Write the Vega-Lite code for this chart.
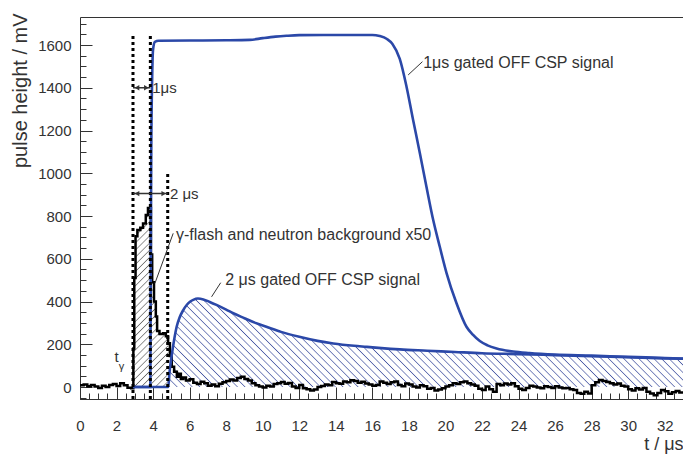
{
"$schema": "https://vega.github.io/schema/vega-lite/v6.json",
"width": 603, "height": 382,
"autosize": {"type": "none"},
"padding": {"left": 80, "top": 17, "right": 0, "bottom": 56},
"background": "white",
"config": {"view": {"stroke": null}, "font": "Liberation Sans", "text": {"font": "Liberation Sans", "color": "#333"}},
"datasets": {
"bg": [{"x":0,"y":8},{"x":0.2,"y":12},{"x":0.4,"y":4},{"x":0.6,"y":10},{"x":0.8,"y":2},{"x":1.0,"y":-4},{"x":1.2,"y":6},{"x":1.4,"y":0},{"x":1.6,"y":9},{"x":1.8,"y":14},{"x":2.0,"y":5},{"x":2.2,"y":18},{"x":2.4,"y":8},{"x":2.6,"y":-3},{"x":2.8,"y":-6},
{"x":2.92,"y":180},{"x":2.97,"y":510},{"x":3.04,"y":705},{"x":3.14,"y":735},{"x":3.3,"y":745},{"x":3.45,"y":765},{"x":3.6,"y":805},{"x":3.72,"y":838},{"x":3.88,"y":620},{"x":3.95,"y":490},{"x":4.05,"y":400},{"x":4.15,"y":330},{"x":4.22,"y":262},{"x":4.35,"y":248},{"x":4.55,"y":252},{"x":4.7,"y":238},{"x":4.82,"y":205},{"x":4.92,"y":145},{"x":5.02,"y":95},{"x":5.15,"y":72},{"x":5.3,"y":48},{"x":5.42,"y":62},{"x":5.52,"y":38},{"x":5.65,"y":45},{"x":5.8,"y":30},
{"x":6.0,"y":36},{"x":6.2,"y":20},{"x":6.4,"y":14},{"x":6.6,"y":25},{"x":6.8,"y":18},{"x":7.0,"y":6},{"x":7.2,"y":12},{"x":7.4,"y":4},{"x":7.6,"y":15},{"x":7.8,"y":22},{"x":8.0,"y":28},{"x":8.2,"y":35},{"x":8.4,"y":30},{"x":8.6,"y":42},{"x":8.8,"y":48},{"x":9.0,"y":38},{"x":9.2,"y":30},{"x":9.4,"y":18},{"x":9.6,"y":8},{"x":9.8,"y":2},
{"x":10.0,"y":-2},{"x":10.2,"y":6},{"x":10.4,"y":3},{"x":10.6,"y":14},{"x":10.8,"y":18},{"x":11.0,"y":24},{"x":11.2,"y":15},{"x":11.4,"y":19},{"x":11.6,"y":3},{"x":11.8,"y":-4},{"x":12.0,"y":10},{"x":12.2,"y":-6},{"x":12.4,"y":-10},{"x":12.6,"y":-16},{"x":12.8,"y":-12},{"x":13.0,"y":0},{"x":13.2,"y":5},{"x":13.4,"y":12},{"x":13.6,"y":8},{"x":13.8,"y":24},
{"x":14.0,"y":18},{"x":14.2,"y":15},{"x":14.4,"y":26},{"x":14.6,"y":22},{"x":14.8,"y":32},{"x":15.0,"y":28},{"x":15.2,"y":20},{"x":15.4,"y":25},{"x":15.6,"y":16},{"x":15.8,"y":12},{"x":16.0,"y":6},{"x":16.2,"y":10},{"x":16.4,"y":26},{"x":16.6,"y":20},{"x":16.8,"y":14},{"x":17.0,"y":22},{"x":17.2,"y":26},{"x":17.4,"y":10},{"x":17.6,"y":4},{"x":17.8,"y":16},
{"x":18.0,"y":12},{"x":18.2,"y":2},{"x":18.4,"y":-2},{"x":18.6,"y":8},{"x":18.8,"y":4},{"x":19.0,"y":-8},{"x":19.2,"y":-4},{"x":19.4,"y":-16},{"x":19.6,"y":-12},{"x":19.8,"y":-6},{"x":20.0,"y":2},{"x":20.2,"y":8},{"x":20.4,"y":18},{"x":20.6,"y":14},{"x":20.8,"y":22},{"x":21.0,"y":26},{"x":21.2,"y":18},{"x":21.4,"y":12},{"x":21.6,"y":6},{"x":21.8,"y":-8},
{"x":22.0,"y":-14},{"x":22.2,"y":2},{"x":22.4,"y":-10},{"x":22.6,"y":-22},{"x":22.8,"y":14},{"x":23.0,"y":8},{"x":23.2,"y":17},{"x":23.4,"y":12},{"x":23.6,"y":18},{"x":23.8,"y":4},{"x":24.0,"y":-8},{"x":24.2,"y":-14},{"x":24.4,"y":-4},{"x":24.6,"y":6},{"x":24.8,"y":2},{"x":25.0,"y":-2},{"x":25.2,"y":-6},{"x":25.4,"y":4},{"x":25.6,"y":0},{"x":25.8,"y":-4},
{"x":26.0,"y":4},{"x":26.2,"y":-2},{"x":26.4,"y":-6},{"x":26.6,"y":-4},{"x":26.8,"y":-10},{"x":27.0,"y":-14},{"x":27.2,"y":-28},{"x":27.4,"y":-32},{"x":27.6,"y":-22},{"x":27.8,"y":-30},{"x":28.0,"y":8},{"x":28.2,"y":22},{"x":28.4,"y":33},{"x":28.6,"y":28},{"x":28.8,"y":24},{"x":29.0,"y":18},{"x":29.2,"y":12},{"x":29.4,"y":16},{"x":29.6,"y":6},{"x":29.8,"y":2},
{"x":30.0,"y":-10},{"x":30.2,"y":-16},{"x":30.4,"y":-6},{"x":30.6,"y":-12},{"x":30.8,"y":-4},{"x":31.0,"y":-22},{"x":31.2,"y":-30},{"x":31.4,"y":-38},{"x":31.6,"y":-28},{"x":31.8,"y":-14},{"x":32.0,"y":-20},{"x":32.2,"y":-32},{"x":32.4,"y":-24},{"x":32.6,"y":-18},{"x":32.8,"y":-26},{"x":33.0,"y":-26}],
"s1": [{"x":2.9,"y":0},{"x":3.85,"y":0},{"x":3.87,"y":500},{"x":3.9,"y":1100},{"x":3.95,"y":1450},{"x":4.0,"y":1580},{"x":4.1,"y":1615},{"x":4.3,"y":1620},{"x":6,"y":1621},{"x":8,"y":1622},{"x":9.3,"y":1624},{"x":10,"y":1632},{"x":10.7,"y":1639},{"x":11.3,"y":1643},{"x":12,"y":1646},{"x":14,"y":1647},{"x":16,"y":1647},{"x":16.4,"y":1642},{"x":16.8,"y":1628},{"x":17.1,"y":1605},{"x":17.5,"y":1535},{"x":17.87,"y":1405},{"x":18.23,"y":1249},{"x":18.6,"y":1094},{"x":18.96,"y":937},{"x":19.33,"y":781},{"x":19.69,"y":656},{"x":20.06,"y":533},{"x":20.6,"y":393},{"x":21.15,"y":282},{"x":21.5,"y":245},{"x":21.88,"y":215},{"x":22.3,"y":195},{"x":22.8,"y":180},{"x":23.7,"y":166},{"x":24.6,"y":159},{"x":26,"y":152},{"x":28,"y":147},{"x":30,"y":141},{"x":32,"y":136},{"x":33,"y":133}],
"s2": [{"x":2.9,"y":0},{"x":4.83,"y":0},{"x":4.9,"y":70},{"x":5.01,"y":142},{"x":5.15,"y":220},{"x":5.29,"y":282},{"x":5.45,"y":325},{"x":5.65,"y":360},{"x":5.85,"y":385},{"x":6.02,"y":399},{"x":6.2,"y":408},{"x":6.45,"y":414},{"x":6.75,"y":410},{"x":7.1,"y":398},{"x":7.47,"y":384},{"x":8.0,"y":362},{"x":8.39,"y":345},{"x":9.0,"y":322},{"x":9.6,"y":300},{"x":10.2,"y":282},{"x":11,"y":258},{"x":12,"y":235},{"x":13,"y":216},{"x":13.86,"y":204},{"x":15,"y":193},{"x":15.7,"y":188},{"x":16.5,"y":182},{"x":17.5,"y":176},{"x":19,"y":170},{"x":20.5,"y":164},{"x":22,"y":158},{"x":24,"y":154},{"x":26,"y":149},{"x":28,"y":144},{"x":30,"y":139},{"x":32,"y":134},{"x":33,"y":132}],
"gates": [{"x":2.9,"y":-56,"y2":1650},{"x":3.85,"y":-56,"y2":1650},{"x":4.8,"y":-56,"y2":1005}],
"arrows": [{"x":2.9,"x2":3.85,"y":1400},{"x":2.9,"x2":4.8,"y":905}],
"notes": [{"x":5.25,"y":712,"text":"γ-flash and neutron background x50"},{"x":7.95,"y":500,"text":"2 μs gated OFF CSP signal"},{"x":18.78,"y":1518,"text":"1μs gated OFF CSP signal"}],
"gatelabels": [{"x":3.95,"y":1400,"text":"1μs"},{"x":4.92,"y":905,"text":"2 μs"}],
"leaders": [{"x":5.1,"y":719,"x2":4.1,"y2":485},{"x":7.7,"y":488,"x2":7.2,"y2":422},{"x":18.74,"y":1522,"x2":17.96,"y2":1460}]
},
"encoding": {
"x": {"field":"x","type":"quantitative","scale":{"domain":[0,33],"nice":false,"zero":false},"axis":null},
"y": {"field":"y","type":"quantitative","scale":{"domain":[-56,1731],"nice":false,"zero":false},"axis":null}
},
"layer": [
{"data":{"name":"s2"},"transform":[{"filter":"datum.x >= 4.83"}],
"mark":{"type":"area","interpolate":"monotone","fill":{"gradient":"linear","x1":0,"y1":1,"x2":1.138,"y2":0.8048,"stops":[
{"offset":0,"color":"#ffffff00"},{"offset":0.0025,"color":"#4a5aa5"},{"offset":0.005,"color":"#ffffff00"},{"offset":0.0125,"color":"#ffffff00"},{"offset":0.015,"color":"#4a5aa5"},{"offset":0.0175,"color":"#ffffff00"},{"offset":0.025,"color":"#ffffff00"},{"offset":0.0275,"color":"#4a5aa5"},{"offset":0.03,"color":"#ffffff00"},{"offset":0.0375,"color":"#ffffff00"},{"offset":0.04,"color":"#4a5aa5"},{"offset":0.0425,"color":"#ffffff00"},{"offset":0.05,"color":"#ffffff00"},{"offset":0.0525,"color":"#4a5aa5"},{"offset":0.055,"color":"#ffffff00"},{"offset":0.0625,"color":"#ffffff00"},{"offset":0.065,"color":"#4a5aa5"},{"offset":0.0675,"color":"#ffffff00"},{"offset":0.075,"color":"#ffffff00"},{"offset":0.0775,"color":"#4a5aa5"},{"offset":0.08,"color":"#ffffff00"},{"offset":0.0875,"color":"#ffffff00"},{"offset":0.09,"color":"#4a5aa5"},{"offset":0.0925,"color":"#ffffff00"},
{"offset":0.1,"color":"#ffffff00"},{"offset":0.1025,"color":"#4a5aa5"},{"offset":0.105,"color":"#ffffff00"},{"offset":0.1125,"color":"#ffffff00"},{"offset":0.115,"color":"#4a5aa5"},{"offset":0.1175,"color":"#ffffff00"},{"offset":0.125,"color":"#ffffff00"},{"offset":0.1275,"color":"#4a5aa5"},{"offset":0.13,"color":"#ffffff00"},{"offset":0.1375,"color":"#ffffff00"},{"offset":0.14,"color":"#4a5aa5"},{"offset":0.1425,"color":"#ffffff00"},{"offset":0.15,"color":"#ffffff00"},{"offset":0.1525,"color":"#4a5aa5"},{"offset":0.155,"color":"#ffffff00"},{"offset":0.1625,"color":"#ffffff00"},{"offset":0.165,"color":"#4a5aa5"},{"offset":0.1675,"color":"#ffffff00"},{"offset":0.175,"color":"#ffffff00"},{"offset":0.1775,"color":"#4a5aa5"},{"offset":0.18,"color":"#ffffff00"},{"offset":0.1875,"color":"#ffffff00"},{"offset":0.19,"color":"#4a5aa5"},{"offset":0.1925,"color":"#ffffff00"},
{"offset":0.2,"color":"#ffffff00"},{"offset":0.2025,"color":"#4a5aa5"},{"offset":0.205,"color":"#ffffff00"},{"offset":0.2125,"color":"#ffffff00"},{"offset":0.215,"color":"#4a5aa5"},{"offset":0.2175,"color":"#ffffff00"},{"offset":0.225,"color":"#ffffff00"},{"offset":0.2275,"color":"#4a5aa5"},{"offset":0.23,"color":"#ffffff00"},{"offset":0.2375,"color":"#ffffff00"},{"offset":0.24,"color":"#4a5aa5"},{"offset":0.2425,"color":"#ffffff00"},{"offset":0.25,"color":"#ffffff00"},{"offset":0.2525,"color":"#4a5aa5"},{"offset":0.255,"color":"#ffffff00"},{"offset":0.2625,"color":"#ffffff00"},{"offset":0.265,"color":"#4a5aa5"},{"offset":0.2675,"color":"#ffffff00"},{"offset":0.275,"color":"#ffffff00"},{"offset":0.2775,"color":"#4a5aa5"},{"offset":0.28,"color":"#ffffff00"},{"offset":0.2875,"color":"#ffffff00"},{"offset":0.29,"color":"#4a5aa5"},{"offset":0.2925,"color":"#ffffff00"},
{"offset":0.3,"color":"#ffffff00"},{"offset":0.3025,"color":"#4a5aa5"},{"offset":0.305,"color":"#ffffff00"},{"offset":0.3125,"color":"#ffffff00"},{"offset":0.315,"color":"#4a5aa5"},{"offset":0.3175,"color":"#ffffff00"},{"offset":0.325,"color":"#ffffff00"},{"offset":0.3275,"color":"#4a5aa5"},{"offset":0.33,"color":"#ffffff00"},{"offset":0.3375,"color":"#ffffff00"},{"offset":0.34,"color":"#4a5aa5"},{"offset":0.3425,"color":"#ffffff00"},{"offset":0.35,"color":"#ffffff00"},{"offset":0.3525,"color":"#4a5aa5"},{"offset":0.355,"color":"#ffffff00"},{"offset":0.3625,"color":"#ffffff00"},{"offset":0.365,"color":"#4a5aa5"},{"offset":0.3675,"color":"#ffffff00"},{"offset":0.375,"color":"#ffffff00"},{"offset":0.3775,"color":"#4a5aa5"},{"offset":0.38,"color":"#ffffff00"},{"offset":0.3875,"color":"#ffffff00"},{"offset":0.39,"color":"#4a5aa5"},{"offset":0.3925,"color":"#ffffff00"},
{"offset":0.4,"color":"#ffffff00"},{"offset":0.4025,"color":"#4a5aa5"},{"offset":0.405,"color":"#ffffff00"},{"offset":0.4125,"color":"#ffffff00"},{"offset":0.415,"color":"#4a5aa5"},{"offset":0.4175,"color":"#ffffff00"},{"offset":0.425,"color":"#ffffff00"},{"offset":0.4275,"color":"#4a5aa5"},{"offset":0.43,"color":"#ffffff00"},{"offset":0.4375,"color":"#ffffff00"},{"offset":0.44,"color":"#4a5aa5"},{"offset":0.4425,"color":"#ffffff00"},{"offset":0.45,"color":"#ffffff00"},{"offset":0.4525,"color":"#4a5aa5"},{"offset":0.455,"color":"#ffffff00"},{"offset":0.4625,"color":"#ffffff00"},{"offset":0.465,"color":"#4a5aa5"},{"offset":0.4675,"color":"#ffffff00"},{"offset":0.475,"color":"#ffffff00"},{"offset":0.4775,"color":"#4a5aa5"},{"offset":0.48,"color":"#ffffff00"},{"offset":0.4875,"color":"#ffffff00"},{"offset":0.49,"color":"#4a5aa5"},{"offset":0.4925,"color":"#ffffff00"},
{"offset":0.5,"color":"#ffffff00"},{"offset":0.5025,"color":"#4a5aa5"},{"offset":0.505,"color":"#ffffff00"},{"offset":0.5125,"color":"#ffffff00"},{"offset":0.515,"color":"#4a5aa5"},{"offset":0.5175,"color":"#ffffff00"},{"offset":0.525,"color":"#ffffff00"},{"offset":0.5275,"color":"#4a5aa5"},{"offset":0.53,"color":"#ffffff00"},{"offset":0.5375,"color":"#ffffff00"},{"offset":0.54,"color":"#4a5aa5"},{"offset":0.5425,"color":"#ffffff00"},{"offset":0.55,"color":"#ffffff00"},{"offset":0.5525,"color":"#4a5aa5"},{"offset":0.555,"color":"#ffffff00"},{"offset":0.5625,"color":"#ffffff00"},{"offset":0.565,"color":"#4a5aa5"},{"offset":0.5675,"color":"#ffffff00"},{"offset":0.575,"color":"#ffffff00"},{"offset":0.5775,"color":"#4a5aa5"},{"offset":0.58,"color":"#ffffff00"},{"offset":0.5875,"color":"#ffffff00"},{"offset":0.59,"color":"#4a5aa5"},{"offset":0.5925,"color":"#ffffff00"},
{"offset":0.6,"color":"#ffffff00"},{"offset":0.6025,"color":"#4a5aa5"},{"offset":0.605,"color":"#ffffff00"},{"offset":0.6125,"color":"#ffffff00"},{"offset":0.615,"color":"#4a5aa5"},{"offset":0.6175,"color":"#ffffff00"},{"offset":0.625,"color":"#ffffff00"},{"offset":0.6275,"color":"#4a5aa5"},{"offset":0.63,"color":"#ffffff00"},{"offset":0.6375,"color":"#ffffff00"},{"offset":0.64,"color":"#4a5aa5"},{"offset":0.6425,"color":"#ffffff00"},{"offset":0.65,"color":"#ffffff00"},{"offset":0.6525,"color":"#4a5aa5"},{"offset":0.655,"color":"#ffffff00"},{"offset":0.6625,"color":"#ffffff00"},{"offset":0.665,"color":"#4a5aa5"},{"offset":0.6675,"color":"#ffffff00"},{"offset":0.675,"color":"#ffffff00"},{"offset":0.6775,"color":"#4a5aa5"},{"offset":0.68,"color":"#ffffff00"},{"offset":0.6875,"color":"#ffffff00"},{"offset":0.69,"color":"#4a5aa5"},{"offset":0.6925,"color":"#ffffff00"},
{"offset":0.7,"color":"#ffffff00"},{"offset":0.7025,"color":"#4a5aa5"},{"offset":0.705,"color":"#ffffff00"},{"offset":0.7125,"color":"#ffffff00"},{"offset":0.715,"color":"#4a5aa5"},{"offset":0.7175,"color":"#ffffff00"},{"offset":0.725,"color":"#ffffff00"},{"offset":0.7275,"color":"#4a5aa5"},{"offset":0.73,"color":"#ffffff00"},{"offset":0.7375,"color":"#ffffff00"},{"offset":0.74,"color":"#4a5aa5"},{"offset":0.7425,"color":"#ffffff00"},{"offset":0.75,"color":"#ffffff00"},{"offset":0.7525,"color":"#4a5aa5"},{"offset":0.755,"color":"#ffffff00"},{"offset":0.7625,"color":"#ffffff00"},{"offset":0.765,"color":"#4a5aa5"},{"offset":0.7675,"color":"#ffffff00"},{"offset":0.775,"color":"#ffffff00"},{"offset":0.7775,"color":"#4a5aa5"},{"offset":0.78,"color":"#ffffff00"},{"offset":0.7875,"color":"#ffffff00"},{"offset":0.79,"color":"#4a5aa5"},{"offset":0.7925,"color":"#ffffff00"},
{"offset":0.8,"color":"#ffffff00"},{"offset":0.8025,"color":"#4a5aa5"},{"offset":0.805,"color":"#ffffff00"},{"offset":0.8125,"color":"#ffffff00"},{"offset":0.815,"color":"#4a5aa5"},{"offset":0.8175,"color":"#ffffff00"},{"offset":0.825,"color":"#ffffff00"},{"offset":0.8275,"color":"#4a5aa5"},{"offset":0.83,"color":"#ffffff00"},{"offset":0.8375,"color":"#ffffff00"},{"offset":0.84,"color":"#4a5aa5"},{"offset":0.8425,"color":"#ffffff00"},{"offset":0.85,"color":"#ffffff00"},{"offset":0.8525,"color":"#4a5aa5"},{"offset":0.855,"color":"#ffffff00"},{"offset":0.8625,"color":"#ffffff00"},{"offset":0.865,"color":"#4a5aa5"},{"offset":0.8675,"color":"#ffffff00"},{"offset":0.875,"color":"#ffffff00"},{"offset":0.8775,"color":"#4a5aa5"},{"offset":0.88,"color":"#ffffff00"},{"offset":0.8875,"color":"#ffffff00"},{"offset":0.89,"color":"#4a5aa5"},{"offset":0.8925,"color":"#ffffff00"},
{"offset":0.9,"color":"#ffffff00"},{"offset":0.9025,"color":"#4a5aa5"},{"offset":0.905,"color":"#ffffff00"},{"offset":0.9125,"color":"#ffffff00"},{"offset":0.915,"color":"#4a5aa5"},{"offset":0.9175,"color":"#ffffff00"},{"offset":0.925,"color":"#ffffff00"},{"offset":0.9275,"color":"#4a5aa5"},{"offset":0.93,"color":"#ffffff00"},{"offset":0.9375,"color":"#ffffff00"},{"offset":0.94,"color":"#4a5aa5"},{"offset":0.9425,"color":"#ffffff00"},{"offset":0.95,"color":"#ffffff00"},{"offset":0.9525,"color":"#4a5aa5"},{"offset":0.955,"color":"#ffffff00"},{"offset":0.9625,"color":"#ffffff00"},{"offset":0.965,"color":"#4a5aa5"},{"offset":0.9675,"color":"#ffffff00"},{"offset":0.975,"color":"#ffffff00"},{"offset":0.9775,"color":"#4a5aa5"},{"offset":0.98,"color":"#ffffff00"},{"offset":0.9875,"color":"#ffffff00"},{"offset":0.99,"color":"#4a5aa5"},{"offset":0.9925,"color":"#ffffff00"},{"offset":1,"color":"#ffffff00"}
]}}},
{"data":{"name":"bg"},"transform":[{"filter":"datum.x >= 2.92 && datum.x <= 4.82"}],
"mark":{"type":"area","interpolate":"step-after","fill":{"gradient":"linear","x1":0,"y1":0,"x2":0.223,"y2":1.1507,"stops":[
{"offset":0,"color":"#ffffff00"},{"offset":0.007,"color":"#666666"},{"offset":0.014,"color":"#ffffff00"},
{"offset":0.0333,"color":"#ffffff00"},{"offset":0.0403,"color":"#666666"},{"offset":0.0473,"color":"#ffffff00"},
{"offset":0.0667,"color":"#ffffff00"},{"offset":0.0737,"color":"#666666"},{"offset":0.0807,"color":"#ffffff00"},
{"offset":0.1,"color":"#ffffff00"},{"offset":0.107,"color":"#666666"},{"offset":0.114,"color":"#ffffff00"},
{"offset":0.1333,"color":"#ffffff00"},{"offset":0.1403,"color":"#666666"},{"offset":0.1473,"color":"#ffffff00"},
{"offset":0.1667,"color":"#ffffff00"},{"offset":0.1737,"color":"#666666"},{"offset":0.1807,"color":"#ffffff00"},
{"offset":0.2,"color":"#ffffff00"},{"offset":0.207,"color":"#666666"},{"offset":0.214,"color":"#ffffff00"},
{"offset":0.2333,"color":"#ffffff00"},{"offset":0.2403,"color":"#666666"},{"offset":0.2473,"color":"#ffffff00"},
{"offset":0.2667,"color":"#ffffff00"},{"offset":0.2737,"color":"#666666"},{"offset":0.2807,"color":"#ffffff00"},
{"offset":0.3,"color":"#ffffff00"},{"offset":0.307,"color":"#666666"},{"offset":0.314,"color":"#ffffff00"},
{"offset":0.3333,"color":"#ffffff00"},{"offset":0.3403,"color":"#666666"},{"offset":0.3473,"color":"#ffffff00"},
{"offset":0.3667,"color":"#ffffff00"},{"offset":0.3737,"color":"#666666"},{"offset":0.3807,"color":"#ffffff00"},
{"offset":0.4,"color":"#ffffff00"},{"offset":0.407,"color":"#666666"},{"offset":0.414,"color":"#ffffff00"},
{"offset":0.4333,"color":"#ffffff00"},{"offset":0.4403,"color":"#666666"},{"offset":0.4473,"color":"#ffffff00"},
{"offset":0.4667,"color":"#ffffff00"},{"offset":0.4737,"color":"#666666"},{"offset":0.4807,"color":"#ffffff00"},
{"offset":0.5,"color":"#ffffff00"},{"offset":0.507,"color":"#666666"},{"offset":0.514,"color":"#ffffff00"},
{"offset":0.5333,"color":"#ffffff00"},{"offset":0.5403,"color":"#666666"},{"offset":0.5473,"color":"#ffffff00"},
{"offset":0.5667,"color":"#ffffff00"},{"offset":0.5737,"color":"#666666"},{"offset":0.5807,"color":"#ffffff00"},
{"offset":0.6,"color":"#ffffff00"},{"offset":0.607,"color":"#666666"},{"offset":0.614,"color":"#ffffff00"},
{"offset":0.6333,"color":"#ffffff00"},{"offset":0.6403,"color":"#666666"},{"offset":0.6473,"color":"#ffffff00"},
{"offset":0.6667,"color":"#ffffff00"},{"offset":0.6737,"color":"#666666"},{"offset":0.6807,"color":"#ffffff00"},
{"offset":0.7,"color":"#ffffff00"},{"offset":0.707,"color":"#666666"},{"offset":0.714,"color":"#ffffff00"},
{"offset":0.7333,"color":"#ffffff00"},{"offset":0.7403,"color":"#666666"},{"offset":0.7473,"color":"#ffffff00"},
{"offset":0.7667,"color":"#ffffff00"},{"offset":0.7737,"color":"#666666"},{"offset":0.7807,"color":"#ffffff00"},
{"offset":0.8,"color":"#ffffff00"},{"offset":0.807,"color":"#666666"},{"offset":0.814,"color":"#ffffff00"},
{"offset":0.8333,"color":"#ffffff00"},{"offset":0.8403,"color":"#666666"},{"offset":0.8473,"color":"#ffffff00"},
{"offset":0.8667,"color":"#ffffff00"},{"offset":0.8737,"color":"#666666"},{"offset":0.8807,"color":"#ffffff00"},
{"offset":0.9,"color":"#ffffff00"},{"offset":0.907,"color":"#666666"},{"offset":0.914,"color":"#ffffff00"},
{"offset":0.9333,"color":"#ffffff00"},{"offset":0.9403,"color":"#666666"},{"offset":0.9473,"color":"#ffffff00"},
{"offset":0.9667,"color":"#ffffff00"},{"offset":0.9737,"color":"#666666"},{"offset":0.9807,"color":"#ffffff00"},{"offset":1,"color":"#ffffff00"}
]}}},
{"data":{"name":"bg"},"mark":{"type":"line","interpolate":"step-after","stroke":"#000000","strokeWidth":2.5},
"encoding":{
"x":{"field":"x","type":"quantitative","scale":{"domain":[0,33],"nice":false,"zero":false},"axis":{"orient":"bottom","values":[0,2,4,6,8,10,12,14,16,18,20,22,24,26,28,30,32],"format":"d","ticks":false,"domain":true,"domainColor":"#333","grid":false,"labelFontSize":15,"labelColor":"#333","labelPadding":19,"labelFlush":false,"labelOverlap":false,"title":"t / μs","titleFontSize":18,"titleFontWeight":"normal","titleColor":"#333","titleAnchor":"end","titleAlign":"right","titleBaseline":"middle","titleX":603,"titleY":45}},
"y":{"field":"y","type":"quantitative","scale":{"domain":[-56,1731],"nice":false,"zero":false},"axis":{"orient":"left","values":[0,200,400,600,800,1000,1200,1400,1600],"format":"d","ticks":false,"domain":true,"domainColor":"#333","grid":false,"labelFontSize":15,"labelColor":"#333","labelPadding":9,"labelOverlap":false,"title":"pulse height / mV","titleFontSize":20,"titleFontWeight":"normal","titleColor":"#333","titleAngle":270,"titleAlign":"right","titleBaseline":"middle","titleX":-60,"titleY":-4}}}},
{"data":{"name":"s2"},"mark":{"type":"line","interpolate":"monotone","stroke":"#2b48a8","strokeWidth":2.6},
"encoding":{
"x":{"field":"x","type":"quantitative","scale":{"domain":[0,33],"nice":false,"zero":false},"axis":{"orient":"bottom","values":[0,0.5,1,1.5,2,2.5,3,3.5,4,4.5,5,5.5,6,6.5,7,7.5,8,8.5,9,9.5,10,10.5,11,11.5,12,12.5,13,13.5,14,14.5,15,15.5,16,16.5,17,17.5,18,18.5,19,19.5,20,20.5,21,21.5,22,22.5,23,23.5,24,24.5,25,25.5,26,26.5,27,27.5,28,28.5,29,29.5,30,30.5,31,31.5,32,32.5,33],"labels":false,"domain":false,"grid":false,"tickSize":-6,"tickColor":"#333","title":null}},
"y":{"field":"y","type":"quantitative","scale":{"domain":[-56,1731],"nice":false,"zero":false},"axis":{"orient":"left","values":[-50,0,50,100,150,200,250,300,350,400,450,500,550,600,650,700,750,800,850,900,950,1000,1050,1100,1150,1200,1250,1300,1350,1400,1450,1500,1550,1600,1650,1700],"labels":false,"domain":false,"grid":false,"tickSize":-6,"tickColor":"#333","title":null}}}},
{"data":{"name":"s1"},"mark":{"type":"line","interpolate":"monotone","stroke":"#2b48a8","strokeWidth":2.6},
"encoding":{
"x":{"field":"x","type":"quantitative","scale":{"domain":[0,33],"nice":false,"zero":false},"axis":{"orient":"bottom","values":[0,2,4,6,8,10,12,14,16,18,20,22,24,26,28,30,32],"labels":false,"domain":false,"grid":false,"tickSize":-12,"tickColor":"#333","title":null}},
"y":{"field":"y","type":"quantitative","scale":{"domain":[-56,1731],"nice":false,"zero":false},"axis":{"orient":"left","values":[0,200,400,600,800,1000,1200,1400,1600],"labels":false,"domain":false,"grid":false,"tickSize":-12,"tickColor":"#333","title":null}}}},
{"data":{"name":"gates"},"mark":{"type":"rule","stroke":"#000000","strokeWidth":3,"strokeDash":[3,3]},
"encoding":{
"x":{"field":"x","type":"quantitative","scale":{"domain":[0,33],"nice":false,"zero":false},"axis":{"orient":"top","labels":false,"ticks":false,"domain":true,"domainColor":"#333","grid":false,"title":null}},
"y2":{"field":"y2"}}},
{"data":{"name":"arrows"},"mark":{"type":"rule","stroke":"#333","strokeWidth":1.5},"encoding":{"x2":{"field":"x2"}}},
{"data":{"name":"arrows"},"mark":{"type":"point","shape":"triangle-left","filled":true,"size":28,"color":"#333","opacity":1,"xOffset":4}},
{"data":{"name":"arrows"},"mark":{"type":"point","shape":"triangle-right","filled":true,"size":28,"color":"#333","opacity":1,"xOffset":-4},"encoding":{"x":{"field":"x2","type":"quantitative","scale":{"domain":[0,33],"nice":false,"zero":false},"axis":null}}},
{"data":{"name":"leaders"},"mark":{"type":"rule","stroke":"#333","strokeWidth":1},"encoding":{"x2":{"field":"x2"},"y2":{"field":"y2"}}},
{"data":{"name":"notes"},"mark":{"type":"text","align":"left","baseline":"middle","fontSize":16,"color":"#333"},"encoding":{"text":{"field":"text"}}},
{"data":{"name":"gatelabels"},"mark":{"type":"text","align":"left","baseline":"middle","fontSize":15,"color":"#333"},"encoding":{"text":{"field":"text"}}},
{"data":{"values":[{"x":2.0,"y":140,"text":"t"}]},"mark":{"type":"text","align":"center","baseline":"middle","fontSize":15,"color":"#333"},"encoding":{"text":{"field":"text"}}},
{"data":{"values":[{"x":2.27,"y":95,"text":"γ"}]},"mark":{"type":"text","align":"center","baseline":"middle","fontSize":11,"color":"#333"},"encoding":{"text":{"field":"text"}}}
],
"resolve": {"axis": {"x": "independent", "y": "independent"}}
}
